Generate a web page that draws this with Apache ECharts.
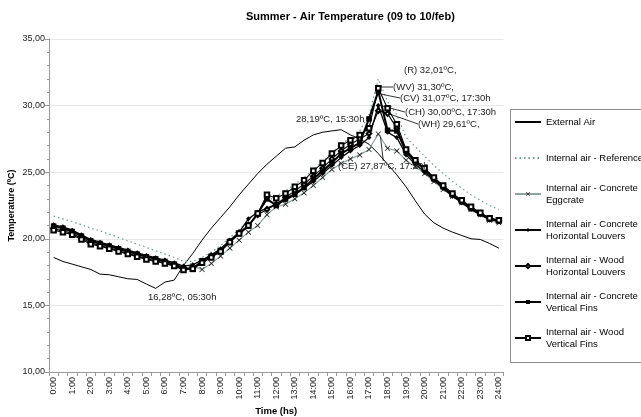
<!DOCTYPE html>
<html>
<head>
<meta charset="utf-8">
<script src="https://cdn.jsdelivr.net/npm/echarts@6/dist/echarts.min.js"></script>
<style>
  html, body { margin: 0; padding: 0; background: #fff; }
  #chart { width: 641px; height: 417px; }
</style>
</head>
<body>
<div id="chart"></div>
<script>
// half-hour readings, 0:00 -> 24:00
var times = ['0:00', '0:30', '1:00', '1:30', '2:00', '2:30', '3:00', '3:30', '4:00', '4:30',
  '5:00', '5:30', '6:00', '6:30', '7:00', '7:30', '8:00', '8:30', '9:00', '9:30',
  '10:00', '10:30', '11:00', '11:30', '12:00', '12:30', '13:00', '13:30', '14:00', '14:30',
  '15:00', '15:30', '16:00', '16:30', '17:00', '17:30', '18:00', '18:30', '19:00', '19:30',
  '20:00', '20:30', '21:00', '21:30', '22:00', '22:30', '23:00', '23:30', '24:00'];

var yTicks = [10, 15, 20, 25, 30, 35];

var externalAir = [18.6, 18.3, 18.1, 17.9, 17.7, 17.35, 17.3, 17.15, 17.0, 16.95, 16.6, 16.28,
  16.75, 16.9, 18.0, 18.9, 19.9, 20.8, 21.6, 22.4, 23.3, 24.1, 24.9, 25.6, 26.2, 26.8, 26.9,
  27.4, 27.8, 28.0, 28.1, 28.19, 27.8, 27.5, 27.1, 26.4, 25.6, 24.8, 23.9, 22.85, 21.85, 21.2,
  20.8, 20.5, 20.25, 20.0, 19.95, 19.65, 19.3];

var reference = [21.7, 21.5, 21.3, 21.05, 20.8, 20.6, 20.35, 20.1, 19.85, 19.6, 19.35, 19.1,
  18.85, 18.6, 18.3, 18.3, 18.6, 19.0, 19.5, 20.1, 20.7, 21.4, 22.1, 22.8, 23.2, 23.6, 24.1,
  24.6, 25.2, 25.8, 26.5, 27.1, 27.6, 28.1, 29.3, 32.01, 30.3, 29.3, 27.6, 26.9, 26.2, 25.5,
  24.9, 24.3, 23.8, 23.3, 22.9, 22.5, 22.2];

var concreteEggcrate = [20.85, 20.7, 20.45, 20.1, 19.75, 19.55, 19.35, 19.15, 18.95, 18.75,
  18.55, 18.4, 18.2, 18.0, 17.75, 17.95, 17.7, 18.15, 18.7, 19.3, 19.9, 20.5, 21.0, 21.8, 22.4,
  22.6, 23.0, 23.45, 24.0, 24.6, 25.2, 25.65, 26.0, 26.3, 26.7, 27.87, 26.8, 26.6, 25.9, 25.4,
  24.9, 24.3, 23.7, 23.2, 22.7, 22.2, 21.8, 21.4, 21.2];

var concreteHorizontal = [21.05, 20.9, 20.65, 20.3, 19.95, 19.75, 19.55, 19.35, 19.15, 18.95,
  18.75, 18.57, 18.4, 18.2, 17.95, 18.05, 18.4, 18.8, 19.25, 19.9, 20.5, 21.5, 22.0, 22.3, 22.6,
  22.9, 23.3, 23.8, 24.3, 24.9, 25.5, 26.1, 26.6, 27.0, 27.6, 30.0, 28.0, 27.6, 26.3, 25.6,
  25.0, 24.4, 23.8, 23.2, 22.7, 22.2, 21.8, 21.45, 21.3];

var woodHorizontal = [20.75, 20.6, 20.4, 20.05, 19.7, 19.5, 19.3, 19.1, 18.9, 18.7, 18.5,
  18.35, 18.2, 18.0, 17.7, 17.85, 18.3, 18.7, 19.1, 19.8, 20.45, 21.05, 21.8, 22.2, 22.6, 23.1,
  23.6, 24.1, 24.7, 25.3, 26.0, 26.6, 27.1, 27.5, 27.9, 29.61, 29.4, 28.3, 26.6, 25.8, 25.2,
  24.5, 23.9, 23.3, 22.8, 22.3, 21.9, 21.5, 21.35];

var concreteVertical = [20.95, 20.8, 20.55, 20.2, 19.85, 19.65, 19.45, 19.25, 19.05, 18.85,
  18.65, 18.5, 18.3, 18.1, 17.8, 17.7, 18.35, 18.7, 19.1, 19.8, 20.4, 20.95, 21.9, 23.0, 22.5,
  23.0, 23.35, 23.85, 24.5, 25.1, 25.7, 26.4, 26.8, 27.2, 29.0, 31.07, 28.15, 28.1, 26.5, 25.8,
  25.2, 24.5, 23.9, 23.3, 22.8, 22.3, 21.9, 21.5, 21.35];

var woodVertical = [20.65, 20.5, 20.3, 19.95, 19.6, 19.45, 19.25, 19.05, 18.85, 18.65, 18.45,
  18.3, 18.15, 17.95, 17.65, 17.75, 18.2, 18.6, 19.05, 19.75, 20.4, 21.0, 21.9, 23.3, 23.05,
  23.4, 23.9, 24.4, 25.1, 25.7, 26.4, 27.0, 27.4, 27.8, 28.3, 31.3, 29.8, 28.6, 26.7, 25.9,
  25.3, 24.6, 24.0, 23.4, 22.9, 22.4, 21.95, 21.55, 21.4];

var FONT = 'Liberation Sans';
var xMark = 'path://M1,0L5,4L9,0L10,1L6,5L10,9L9,10L5,6L1,10L0,9L4,5L0,1Z';

function fmt(v) { return v.toFixed(2).replace('.', ','); }
function hh(t) { return t.length < 5 ? '0' + t : t; }
function peakOf(arr) { return arr.indexOf(Math.max.apply(null, arr)); }
function lowOf(arr) { return arr.indexOf(Math.min.apply(null, arr)); }

// annotation: which point, the tag, whether the time is shown, where the text sits
function noted(values, notes) {
  return values.map(function (v, i) {
    var n = notes.filter(function (k) { return k.idx === i; })[0];
    if (!n) return v;
    var txt = n.tag + fmt(v) + 'ºC,' + (n.time ? ' ' + hh(times[i]) + 'h' : '');
    return {
      value: v,
      label: { show: true, formatter: txt },
      labelLine: { show: n.line }
    };
  });
}
function placer(notes) {
  return function (p) {
    var n = notes.filter(function (k) { return k.idx === p.dataIndex; })[0];
    if (!n) return {};
    return { x: n.x, y: n.y, align: 'left', verticalAlign: 'middle' };
  };
}

var labelBase = { show: false, fontFamily: FONT, fontSize: 9.5, color: '#222' };
var guide = { show: false, smooth: false, lineStyle: { color: '#000', width: 0.8 } };

function makeSeries(name, values, notes, extra) {
  var s = {
    name: name,
    type: 'line',
    data: noted(values, notes),
    showAllSymbol: true,
    animation: false,
    label: labelBase,
    labelLine: guide,
    labelLayout: placer(notes),
    emphasis: { disabled: true }
  };
  for (var k in extra) s[k] = extra[k];
  return s;
}

var extNotes = [
  { idx: peakOf(externalAir), tag: '', time: true, x: 296, y: 119, line: false },
  { idx: lowOf(externalAir), tag: '', time: true, x: 148, y: 297, line: false }
];
var refNotes = [{ idx: peakOf(reference), tag: '(R) ', time: false, x: 404, y: 70, line: false }];
var ceNotes = [{ idx: peakOf(concreteEggcrate), tag: '(CE) ', time: true, x: 338, y: 166, line: true }];
var chNotes = [{ idx: peakOf(concreteHorizontal), tag: '(CH) ', time: true, x: 405, y: 112, line: true }];
var whNotes = [{ idx: peakOf(woodHorizontal), tag: '(WH) ', time: false, x: 418, y: 124, line: true }];
var cvNotes = [{ idx: peakOf(concreteVertical), tag: '(CV) ', time: true, x: 400, y: 98, line: true }];
var wvNotes = [{ idx: peakOf(woodVertical), tag: '(WV) ', time: false, x: 393, y: 87, line: true }];

var names = ['External Air', 'Internal air - Reference', 'Internal air - Concrete Eggcrate',
  'Internal air - Concrete Horizontal Louvers', 'Internal air - Wood Horizontal Louvers',
  'Internal air - Concrete Vertical Fins', 'Internal air - Wood Vertical Fins'];

var chart = echarts.init(document.getElementById('chart'), null, { renderer: 'canvas' });

var option = {
  backgroundColor: '#fff',
  animation: false,
  title: {
    text: 'Summer - Air Temperature (09 to 10/feb)',
    left: 241,
    top: 6,
    textStyle: { fontFamily: FONT, fontSize: 11, fontWeight: 'bold', color: '#000' }
  },
  grid: { left: 49, right: 137.5, top: 39, bottom: 45, outerBoundsMode: 'none' },
  legend: {
    orient: 'vertical',
    left: 514,
    top: 104,
    padding: 0,
    itemGap: 0,
    itemWidth: 26,
    itemHeight: 5,
    selectedMode: false,
    formatter: function (n) { return n.replace(/^(Internal air - (Concrete|Wood)) /, '$1\n'); },
    textStyle: {
      fontFamily: FONT, fontSize: 9.5, color: '#000', lineHeight: 12,
      padding: [12, 0, 0, 0], backgroundColor: 'rgba(255,255,255,0)'
    },
    data: names.map(function (n, i) {
      if (i < 2) {
        return { name: n, itemStyle: { opacity: 0 }, textStyle: { padding: [12, 0, 12, 0] } };
      }
      return { name: n };
    })
  },
  graphic: [{
    type: 'rect',
    silent: true,
    shape: { x: 510.5, y: 109.5, width: 140, height: 253 },
    style: { fill: 'none', stroke: '#8c8c8c', lineWidth: 1 }
  }],
  xAxis: {
    type: 'category',
    data: times,
    boundaryGap: true,
    name: 'Time (hs)',
    nameLocation: 'middle',
    nameGap: 34,
    nameMoveOverlap: false,
    nameTextStyle: { fontFamily: FONT, fontSize: 9.5, fontWeight: 'bold', color: '#000' },
    axisLine: { show: true, lineStyle: { color: '#9a9a9a', width: 1 } },
    axisTick: { show: true, interval: 0, length: 4, lineStyle: { color: '#9a9a9a' } },
    axisLabel: { interval: 1, rotate: 90, margin: 5, fontFamily: FONT, fontSize: 9, color: '#222' },
    splitLine: { show: false }
  },
  yAxis: {
    type: 'value',
    min: yTicks[0],
    max: yTicks[yTicks.length - 1],
    interval: yTicks[1] - yTicks[0],
    name: 'Temperature (ºC)',
    nameLocation: 'middle',
    nameGap: 33,
    nameMoveOverlap: false,
    nameTextStyle: { fontFamily: FONT, fontSize: 9, fontWeight: 'bold', color: '#000' },
    axisLine: { show: true, lineStyle: { color: '#9a9a9a', width: 1 } },
    axisTick: { show: true, length: 4, lineStyle: { color: '#9a9a9a' } },
    minorTick: { show: true, splitNumber: 5, length: 2, lineStyle: { color: '#9a9a9a' } },
    axisLabel: { margin: 4, fontFamily: FONT, fontSize: 9, color: '#222', formatter: fmt },
    splitLine: { show: true, lineStyle: { color: '#e6e6e6', width: 1 } }
  },
  series: [
    makeSeries(names[0], externalAir, extNotes, {
      symbol: 'circle', symbolSize: 0,
      itemStyle: { color: '#000' },
      lineStyle: { color: '#000', width: 1 }
    }),
    makeSeries(names[1], reference, refNotes, {
      symbol: 'circle', symbolSize: 0,
      itemStyle: { color: '#6f9894' },
      lineStyle: { color: '#6f9894', width: 1.2, type: [1.5, 3] }
    }),
    makeSeries(names[2], concreteEggcrate, ceNotes, {
      symbol: xMark, symbolSize: 5.5,
      itemStyle: { color: '#1a1a1a' },
      lineStyle: { color: '#8fa3a3', width: 1.2 }
    }),
    makeSeries(names[3], concreteHorizontal, chNotes, {
      symbol: 'diamond', symbolSize: 5,
      itemStyle: { color: '#000' },
      lineStyle: { color: '#000', width: 1.3 }
    }),
    makeSeries(names[4], woodHorizontal, whNotes, {
      symbol: 'emptyDiamond', symbolSize: 4.5,
      itemStyle: { color: '#000', borderWidth: 0.8 },
      lineStyle: { color: '#000', width: 1.1 }
    }),
    makeSeries(names[5], concreteVertical, cvNotes, {
      symbol: 'rect', symbolSize: 5.5,
      itemStyle: { color: '#000' },
      lineStyle: { color: '#000', width: 2 }
    }),
    makeSeries(names[6], woodVertical, wvNotes, {
      symbol: 'emptyRect', symbolSize: 4.5,
      itemStyle: { color: '#000', borderWidth: 0.8 },
      lineStyle: { color: '#000', width: 1.1 }
    })
  ]
};

chart.setOption(option);
</script>
</body>
</html>
